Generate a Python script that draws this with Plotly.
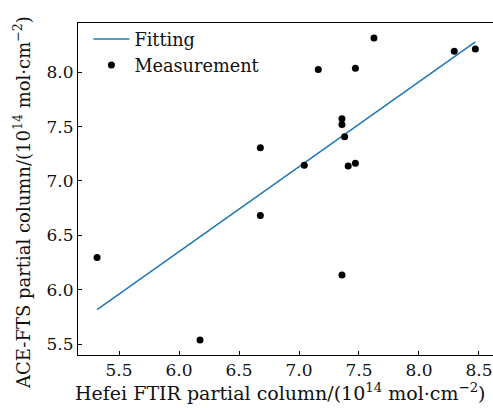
import plotly.graph_objects as go

# Measurement data (Hefei FTIR vs ACE-FTS partial column, 1e14 mol/cm^2)
meas_x = [5.317, 6.175, 6.678, 6.678, 7.044, 7.161, 7.358, 7.358, 7.358,
          7.38, 7.41, 7.47, 7.47, 7.625, 8.294, 8.47]
meas_y = [6.296, 5.539, 7.306, 6.682, 7.144, 8.025, 7.572, 7.52, 6.135,
          7.406, 7.138, 7.162, 8.037, 8.315, 8.193, 8.214]

# Fitting line endpoints
fit_x = [5.317, 8.47]
fit_y = [5.817, 8.278]

x_ticks = [5.5, 6.0, 6.5, 7.0, 7.5, 8.0, 8.5]
y_ticks = [5.5, 6.0, 6.5, 7.0, 7.5, 8.0]

x_title = "Hefei FTIR partial column/(10<sup>14</sup> mol·cm<sup>−2</sup>)"
y_title = "ACE-FTS partial column/(10<sup>14</sup> mol·cm<sup>−2</sup>)"

FONT = "DejaVu Serif"

fig = go.Figure()
fig.add_trace(go.Scatter(x=fit_x, y=fit_y, mode="lines", name="Fitting",
                         line=dict(color="#1f77b4", width=1.5)))
fig.add_trace(go.Scatter(x=meas_x, y=meas_y, mode="markers", name="Measurement",
                         marker=dict(color="black", size=7)))

fig.add_annotation(text=y_title, xref="paper", yref="paper",
                   x=-0.135, y=0.461, xanchor="center", yanchor="middle",
                   textangle=-90, showarrow=False,
                   font=dict(size=18, family=FONT, color="#111111"))
fig.add_annotation(text=x_title, xref="paper", yref="paper",
                   x=0.487, y=-0.111, xanchor="center", yanchor="middle",
                   showarrow=False,
                   font=dict(size=19, family=FONT, color="#111111"))

fig.update_layout(
    width=493, height=408,
    margin=dict(l=78, r=0, t=23, b=53),
    paper_bgcolor="white", plot_bgcolor="white",
    font=dict(family=FONT, size=17, color="#111111"),
    showlegend=True,
    legend=dict(x=0.025, y=1.006, xanchor="left", yanchor="top",
                bgcolor="rgba(0,0,0,0)", font=dict(size=17.7),
                itemwidth=36, tracegroupgap=0),
    xaxis=dict(range=[5.158, 8.617], tickvals=x_ticks,
               ticktext=[f"{v:.1f}" for v in x_ticks],
               tickfont=dict(size=17),
               ticks="inside", ticklen=4, tickwidth=1, tickcolor="black",
               showline=True, linecolor="black", linewidth=1, mirror=True,
               showgrid=False, zeroline=False),
    yaxis=dict(range=[5.40, 8.452], tickvals=y_ticks,
               ticktext=[f"{v:.1f}" for v in y_ticks],
               tickfont=dict(size=17),
               ticks="inside", ticklen=4, tickwidth=1, tickcolor="black",
               showline=True, linecolor="black", linewidth=1, mirror=False,
               showgrid=False, zeroline=False),
)

fig.write_html("out.html", config={"displayModeBar": False},
               post_script="document.body.style.margin='0';document.body.style.overflow='hidden';")
